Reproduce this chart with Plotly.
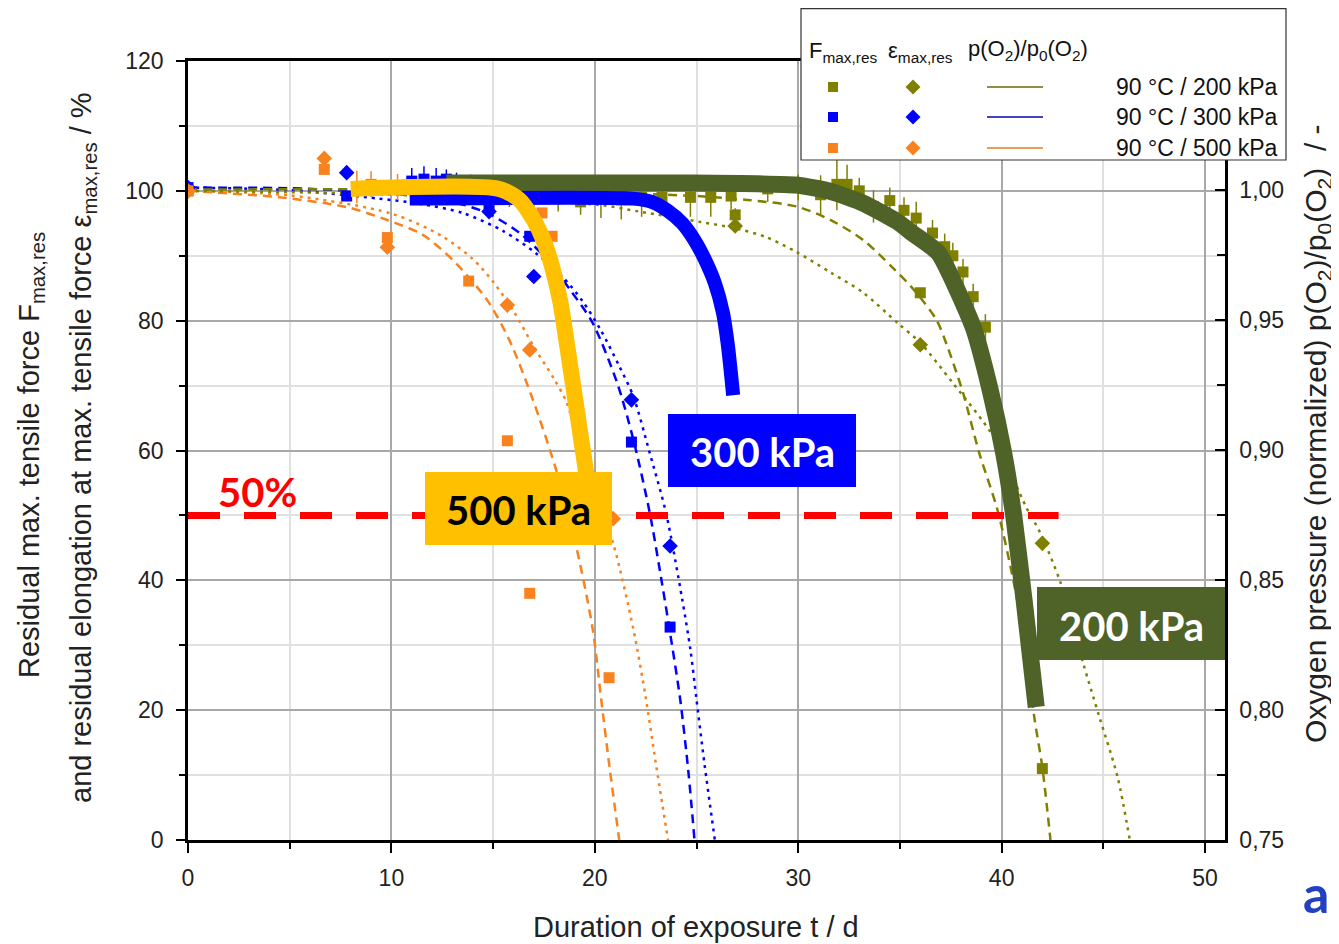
import plotly.graph_objects as go

# ---------------- data ----------------
# 500 kPa (orange)
o_sq_t   = [0.0, 6.7, 8.3, 9.0, 9.8, 10.3, 12.0, 13.8, 15.7, 16.8, 17.4, 17.9, 20.7]
o_sq_v   = [100.0, 103.3, 100.6, 101.0, 92.8, 100.6, 100.3, 86.1, 61.5, 38.0, 96.6, 93.0, 25.0]
o_sq_err = [0, 0, 2.5, 2.0, 0, 2.0, 1.5, 0, 0, 0, 0, 0, 0]
o_di_t   = [0.0, 6.7, 9.8, 15.7, 16.8, 20.9]
o_di_v   = [100.0, 105.0, 91.3, 82.4, 75.5, 49.5]
o_fitF_t = [0, 4.5, 7.8, 9.8, 11.5, 13.0, 14.7, 15.8, 16.9, 18.1, 19.1, 19.9, 20.3, 20.7, 21.2]
o_fitF_v = [100, 99.0, 97.5, 95.5, 93.3, 89.4, 83.2, 77.0, 68.3, 57.0, 45.0, 32.4, 22.0, 11.8, 0]
o_fitE_t = [0, 5, 10, 12.5, 14.0, 15.0, 16.0, 17.0, 18.0, 18.6, 19.6, 20.9, 21.9, 22.5, 23.0, 23.6]
o_fitE_v = [100, 99.3, 96.5, 93.0, 89.5, 86.0, 81.5, 76.0, 71.0, 67.5, 57.0, 45.7, 32.4, 22.0, 11.8, 0]

# 300 kPa (blue)
b_sq_t   = [0.0, 7.8, 11.0, 11.6, 12.2, 12.7, 13.2, 13.9, 14.8, 15.6, 16.8, 17.0, 21.8, 23.7]
b_sq_v   = [100.5, 99.2, 101.5, 101.8, 101.5, 101.8, 101.3, 101.0, 98.0, 100.8, 93.0, 100.5, 61.3, 32.8]
b_sq_err = [0, 0, 2.0, 2.0, 2.0, 1.5, 1.5, 1.5, 0, 1.5, 0, 1.2, 0, 0]
b_di_t   = [0.0, 7.8, 14.8, 17.0, 21.8, 23.7]
b_di_v   = [100.5, 102.8, 96.8, 86.8, 67.8, 45.3]
b_fitF_t = [0, 5, 8, 11, 13, 14.7, 16.3, 17.6, 18.8, 19.9, 21.1, 21.9, 22.7, 23.3, 23.7, 24.2, 24.6, 24.9]
b_fitF_v = [100.5, 100.4, 100.0, 99.3, 98.3, 96.6, 93.5, 89.6, 84.7, 79.6, 70.4, 61.6, 50.4, 39.6, 31.9, 21.6, 10.5, 0]
b_fitE_t = [0, 5, 9.4, 11.4, 13.5, 15.5, 17.1, 18.4, 19.4, 20.3, 21.2, 21.9, 22.7, 23.5, 24.3, 24.7, 25.0, 25.4, 25.9]
b_fitE_v = [100.5, 100.1, 98.8, 98.0, 96.6, 93.8, 90.4, 86.8, 83.0, 78.5, 73.0, 68.3, 59.6, 50.4, 37.0, 29.3, 21.6, 11.5, 0]

# 200 kPa (olive)
g_sq_t   = [0.0, 15.8, 17.0, 18.2, 19.3, 20.3, 21.3, 22.3, 23.3, 24.7, 25.7, 26.7, 26.9, 28.5, 30.0,
            31.1, 31.9, 32.4, 33.0, 33.7, 34.5, 35.2, 35.8, 36.0, 36.6, 37.2, 37.6, 38.1, 38.6, 39.2, 42.0]
g_sq_v   = [100.0, 99.5, 99.3, 98.8, 98.3, 98.8, 98.6, 99.0, 99.0, 99.0, 99.0, 99.2, 96.3, 100.3, 100.5,
            99.4, 101.0, 101.0, 100.0, 97.6, 98.5, 97.0, 95.8, 84.3, 93.5, 91.4, 90.0, 87.5, 83.7, 79.0, 11.0]
g_sq_err = [0, 2, 2, 2, 2, 3, 3, 3, 2.5, 3, 3, 2, 1, 2, 2,
            3, 4, 3, 2, 2.5, 2, 2, 2.5, 0, 2, 2, 2, 2, 2, 2, 0]
g_di_t   = [0.0, 26.9, 36.0, 42.0]
g_di_v   = [100.0, 94.6, 76.3, 45.7]
g_fitF_t = [0, 10, 20, 25, 27.5, 29.9, 31.6, 33.2, 34.6, 35.7, 36.8, 37.3, 38.1, 38.9, 39.8, 40.6, 41.2, 41.6, 42.0, 42.4]
g_fitF_v = [100.2, 100.2, 99.7, 99.2, 98.6, 97.6, 95.5, 92.4, 88.3, 84.7, 80.1, 76.3, 68.9, 59.6, 50.8, 39.6, 29.3, 19.0, 11.2, 0]
g_fitE_t = [0, 5, 10, 15, 20.3, 22.2, 25.2, 26.8, 28.4, 29.9, 31.6, 33.2, 34.9, 36.0, 37.6, 39.6, 41.2,
            41.9, 42.9, 44.0, 44.8, 45.7, 46.3]
g_fitE_v = [100, 99.8, 99.4, 98.8, 97.8, 96.8, 95.2, 94.3, 92.9, 90.6, 87.4, 84.3, 79.6, 76.6, 70.4, 62.1, 51.3,
            47.3, 39.6, 27.3, 19.0, 9.7, 0]

# hand-drawn highlight curves (oxygen pressure trend)
hl500_t = [8.0, 15.3, 16.3, 17.0, 17.5, 17.9, 18.3, 18.6, 19.7]
hl500_v = [100.3, 100.3, 98.6, 95.5, 92.2, 88.3, 83.0, 77.0, 54.0]
hl300_t = [10.9, 21.9, 22.8, 23.6, 24.3, 24.9, 25.4, 25.9, 26.3, 26.55, 26.72, 26.8]
hl300_v = [98.8, 98.8, 98.3, 96.9, 95.0, 92.4, 89.5, 85.8, 81.2, 76.0, 71.0, 68.5]
hl200_t = [12.7, 24.2, 29.9, 31.6, 33.2, 34.9, 35.6, 36.9, 38.6, 39.4, 40.1, 40.6, 41.1, 41.7]
hl200_v = [101.2, 101.2, 100.9, 99.9, 98.1, 95.2, 93.5, 90.4, 79.0, 69.8, 59.6, 49.8, 37.0, 20.5]

limit_t = [0.0, 42.8]
limit_v = [50, 50]

x_ticks = [0, 10, 20, 30, 40, 50]
legend_rows = ["90 °C / 200 kPa", "90 °C / 300 kPa", "90 °C / 500 kPa"]

# ---------------- styling ----------------
ORANGE = "#F7821E"
BLUE = "#0000FF"
OLIVE = "#808000"
FONT = "Liberation Sans, Arial, sans-serif"
BOLD = "Lato, Open Sans, sans-serif"

OFF = 8                      # page body margin of the html page
W, H = 1339 - OFF, 944 - OFF
L, T = 188 - OFF, 61 - OFF
PW, PH = 1037, 779
R = W - L - PW
B = H - T - PH


def px(xp):
    return (xp - OFF - L) / PW


def py(yp):
    return (T + PH - (yp - OFF)) / PH


fig = go.Figure()


def fit(t, v, color, dash):
    fig.add_trace(go.Scatter(x=t, y=v, mode="lines", line=dict(color=color, width=2.5, dash=dash,
                                                                   shape="spline", smoothing=0.8),
                             hoverinfo="skip"))


def squares(t, v, err, color):
    fig.add_trace(go.Scatter(x=t, y=v, mode="markers",
                             marker=dict(symbol="square", size=11, color=color, line=dict(width=0)),
                             error_y=dict(type="data", array=err, visible=True, color=color,
                                          thickness=1.5, width=0)))


def diamonds(t, v, color):
    fig.add_trace(go.Scatter(x=t, y=v, mode="markers",
                             marker=dict(symbol="diamond", size=12, color=color, line=dict(width=0))))


for (ft, fv, et, ev, c) in [(o_fitF_t, o_fitF_v, o_fitE_t, o_fitE_v, ORANGE),
                            (b_fitF_t, b_fitF_v, b_fitE_t, b_fitE_v, BLUE),
                            (g_fitF_t, g_fitF_v, g_fitE_t, g_fitE_v, OLIVE)]:
    fit(ft, fv, c, "9px,6px")
    fit(et, ev, c, "3px,5px")

squares(g_sq_t, g_sq_v, g_sq_err, OLIVE)
diamonds(g_di_t, g_di_v, OLIVE)
squares(b_sq_t, b_sq_v, b_sq_err, BLUE)
diamonds(b_di_t, b_di_v, BLUE)
squares(o_sq_t, o_sq_v, o_sq_err, ORANGE)
diamonds(o_di_t, o_di_v, ORANGE)

# 50 % limit line
fig.add_trace(go.Scatter(x=limit_t, y=limit_v, mode="lines",
                         line=dict(color="#FF0000", width=7, dash="32px,24px")))

# highlight curves
fig.add_trace(go.Scatter(x=hl200_t, y=hl200_v, mode="lines",
                         line=dict(color="#4F6228", width=17, shape="spline", smoothing=0.5)))
fig.add_trace(go.Scatter(x=hl300_t, y=hl300_v, mode="lines",
                         line=dict(color="#0000FF", width=14, shape="spline", smoothing=0.6)))
fig.add_trace(go.Scatter(x=hl500_t, y=hl500_v, mode="lines",
                         line=dict(color="#FFC000", width=16, shape="spline", smoothing=0.7)))

# invisible trace to activate the right axis
fig.add_trace(go.Scatter(x=[0], y=[1.0], yaxis="y2", mode="markers", marker=dict(opacity=0),
                         hoverinfo="skip"))

shapes = []
annotations = []

# label boxes
for (x0, y0, x1, y1, fill, txt, tcol) in [
    (425, 472, 612, 545, "#FFC000", "500 kPa", "black"),
    (668, 414, 856, 487, "#0000FF", "300 kPa", "white"),
    (1037, 587, 1225, 660, "#4F6228", "200 kPa", "white"),
]:
    shapes.append(dict(type="rect", xref="paper", yref="paper", x0=px(x0), x1=px(x1), y0=py(y1), y1=py(y0),
                       fillcolor=fill, line=dict(width=0), layer="above"))
    annotations.append(dict(xref="paper", yref="paper", x=px((x0 + x1) / 2), y=py((y0 + y1) / 2 + 2),
                            text="<b>%s</b>" % txt, showarrow=False,
                            font=dict(family=BOLD, size=40, color=tcol),
                            xanchor="center", yanchor="middle"))

annotations.append(dict(xref="paper", yref="paper", x=px(257), y=py(492), text="<b>50%</b>",
                        showarrow=False, font=dict(family=BOLD, size=40, color="#FF0000"),
                        xanchor="center", yanchor="middle"))

# legend box
shapes.append(dict(type="rect", xref="paper", yref="paper", x0=px(801), x1=px(1286), y0=py(160), y1=py(8.7),
                   fillcolor="white", line=dict(color="#333333", width=1.2), layer="above"))
annotations += [
    dict(xref="paper", yref="paper", x=px(807), y=py(52), text="F<sub>max,res</sub>", showarrow=False,
         xanchor="left", yanchor="middle", font=dict(family=FONT, size=22, color="#111")),
    dict(xref="paper", yref="paper", x=px(886), y=py(52), text="ε<sub>max,res</sub>", showarrow=False,
         xanchor="left", yanchor="middle", font=dict(family=FONT, size=22, color="#111")),
    dict(xref="paper", yref="paper", x=px(966), y=py(50),
         text="p(O<sub>2</sub>)/p<sub>0</sub>(O<sub>2</sub>)", showarrow=False,
         xanchor="left", yanchor="middle", font=dict(family=FONT, size=22, color="#111")),
]
row_y = [87, 117, 148]
row_mark = [OLIVE, BLUE, ORANGE]
row_line = ["#8F8F3F", "#4444BB", "#E4A055"]
for yy, mc, lc, txt in zip(row_y, row_mark, row_line, legend_rows):
    shapes.append(dict(type="rect", xref="paper", yref="paper", x0=px(828), x1=px(838), y0=py(yy + 5),
                       y1=py(yy - 5), fillcolor=mc, line=dict(width=0), layer="above"))
    d = 7.5
    path = "M %f,%f L %f,%f L %f,%f L %f,%f Z" % (px(913 - d), py(yy), px(913), py(yy - d),
                                                 px(913 + d), py(yy), px(913), py(yy + d))
    shapes.append(dict(type="path", xref="paper", yref="paper", path=path, fillcolor=mc,
                       line=dict(width=0), layer="above"))
    shapes.append(dict(type="line", xref="paper", yref="paper", x0=px(987), x1=px(1043), y0=py(yy), y1=py(yy),
                       line=dict(color=lc, width=1.8), layer="above"))
    annotations.append(dict(xref="paper", yref="paper", x=px(1280), y=py(yy), text=txt, showarrow=False,
                            xanchor="right", yanchor="middle", font=dict(family=FONT, size=23, color="#111")))

# axis titles
annotations += [
    dict(xref="paper", yref="paper", x=px(31), y=py(455), textangle=-90, showarrow=False,
         text="Residual max. tensile force F<sub>max,res</sub>", xanchor="center", yanchor="middle",
         font=dict(family=FONT, size=29, color="#222")),
    dict(xref="paper", yref="paper", x=px(83), y=py(448), textangle=-90, showarrow=False,
         text="and residual elongation at max. tensile force ε<sub>max,res</sub> / %", xanchor="center",
         yanchor="middle", font=dict(family=FONT, size=29, color="#222")),
    dict(xref="paper", yref="paper", x=px(1317), y=py(434), textangle=-90, showarrow=False,
         text="Oxygen pressure (normalized) p(O<sub>2</sub>)/p<sub>0</sub>(O<sub>2</sub>)  / -",
         xanchor="center", yanchor="middle", font=dict(family=FONT, size=30, color="#222")),
    dict(xref="paper", yref="paper", x=px(696), y=py(927), showarrow=False,
         text="Duration of exposure t / d", xanchor="center", yanchor="middle",
         font=dict(family=FONT, size=29, color="#222")),
    dict(xref="paper", yref="paper", x=px(1301), y=py(893), showarrow=False,
         text="<b>a</b>", xanchor="left", yanchor="middle",
         font=dict(family=BOLD, size=52, color="#2340C0")),
]

fig.update_layout(
    width=W, height=H, margin=dict(l=L, r=R, t=T, b=B, pad=0),
    paper_bgcolor="white", plot_bgcolor="white", showlegend=False,
    separators=",.",
    font=dict(family=FONT, size=23, color="#222"),
    shapes=shapes, annotations=annotations,
    xaxis=dict(range=[0, 50.98], tickvals=x_ticks, ticks="outside", ticklen=10, tickwidth=2,
               tickcolor="black", showline=True, linecolor="black", linewidth=2.5, mirror=True,
               showgrid=True, gridcolor="#A8A8A8", gridwidth=1.5, zeroline=False,
               ticklabelstandoff=6,
               minor=dict(dtick=5, tick0=0, ticks="outside", ticklen=6, tickwidth=2, tickcolor="black",
                          showgrid=True, gridcolor="#E0E0E0", gridwidth=1.5)),
    yaxis=dict(range=[0, 120], tick0=0, dtick=20, ticks="outside", ticklen=9, tickwidth=2,
               tickcolor="black", showline=True, linecolor="black", linewidth=2.5,
               showgrid=True, gridcolor="#A8A8A8", gridwidth=1.5, zeroline=False,
               ticklabelstandoff=8,
               minor=dict(dtick=10, tick0=0, ticks="outside", ticklen=6, tickwidth=2, tickcolor="black",
                          showgrid=True, gridcolor="#E0E0E0", gridwidth=1.5)),
    yaxis2=dict(range=[0.75, 0.75 + 0.25 * PH / 650], overlaying="y", side="right",
                tick0=0.75, dtick=0.05, tickformat=".2f", ticks="inside", ticklen=10, tickwidth=2,
                tickcolor="black", showline=True, linecolor="black", linewidth=2.5, showgrid=False,
                zeroline=False, ticklabelstandoff=7,
                minor=dict(dtick=0.025, tick0=0.75, ticks="inside", ticklen=8, tickwidth=2,
                           tickcolor="black", showgrid=False)),
)

fig.write_html("out.html")
